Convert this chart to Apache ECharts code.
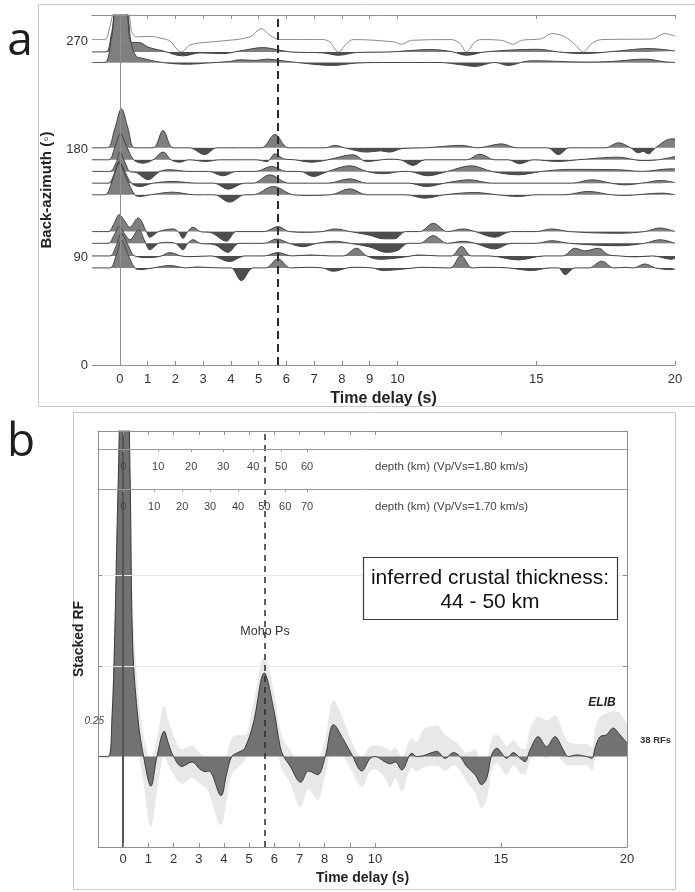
<!DOCTYPE html>
<html><head><meta charset="utf-8">
<script src="https://cdn.jsdelivr.net/npm/echarts@6/dist/echarts.min.js"></script>
<style>html,body{margin:0;padding:0;background:#fff}#c{width:695px;height:892px}</style>
</head><body><div id="c"></div>
<script>
// ---------- DATA ----------
const timeTicks = [0,1,2,3,4,5,6,7,8,9,10,15,20];
const bazTicks = [0,90,180,270];
const mohoTimeA = 5.7;
const mohoTimeB = 5.6;

// Panel a: receiver functions, [time (s), amplitude in back-azimuth units]
const traceBaz = { rf261line: 261.2, rf261: 261.2, rf252: 252.4, rf181: 181.2, rf171: 171.2, rf161: 161.5, rf152: 151.7, rf142: 142, rf111: 111.3, rf101: 101.5, rf91: 91, rf81: 81 };
const rf261line = [[-1,10.3],[-0.54,10.3],[-0.36,20.8],[-0.2,36],[0,45],[0.3,36],[0.42,18],[0.6,12.5],[1.08,13],[1.56,11],[1.8,9.2],[2.22,0],[2.52,5.6],[2.88,7.5],[3.72,9.2],[4.68,12.5],[5.1,19.4],[5.41,13.9],[5.77,10.3],[7.33,10.3],[7.57,8.3],[7.87,0],[8.17,6.9],[8.41,10.3],[9.91,8.3],[10.15,6.4],[10.51,9.7],[11.95,10.3],[12.25,7],[12.49,0],[12.79,8.3],[13.03,10.3],[13.75,9.7],[14.18,6.4],[14.47,9.7],[15.19,11],[15.56,15.3],[16.04,12.5],[16.4,6],[16.7,0],[17.0,7],[17.36,10.3],[19.16,10.8],[19.64,15.3],[20,13]];
const rf261 = [[-1,0],[-0.5,0],[-0.3,15],[-0.1,36],[0.2,36],[0.42,8],[0.72,7.8],[1.02,4],[1.56,0.8],[2.28,-3.3],[2.88,-0.8],[3.72,-1.4],[4.32,0.8],[5.17,3.6],[5.65,2],[6.13,0],[7.33,-0.8],[7.87,-2.8],[8.53,-0.5],[9.73,0],[11.23,2],[12.0,0],[12.49,-2.8],[13.15,0],[15.07,2.2],[15.8,0],[16.7,-1.4],[17.96,0.8],[19.04,2.8],[20,0.8]];
const rf252 = [[-1,0],[-0.54,0],[-0.3,20],[-0.1,45],[0.2,45],[0.42,15],[0.6,5],[0.8,3.6],[1.32,0.8],[1.92,-1],[2.52,-1.4],[3.12,-0.5],[3.96,0.8],[4.32,2.2],[4.92,1.7],[5.29,2.8],[5.77,1.7],[6.37,0],[7.69,-2.5],[8.53,-0.5],[9.73,0],[11.5,0],[12.31,-2],[12.79,-3.3],[13.51,0],[13.99,-2.5],[14.59,0.8],[14.95,1.4],[16.76,0.3],[17.72,0.8],[18.92,2.8],[19.64,0.5],[20,0]];
const rf181 = [[-1,0],[-0.45,0],[-0.18,16],[0.06,32.5],[0.3,16],[0.54,0],[1.2,0],[1.56,14.4],[1.92,0],[2.5,0],[3.06,-5.6],[3.5,0],[5.1,0],[5.59,11.1],[6.07,0],[7.4,0],[7.75,2],[8.1,0],[8.9,-3.6],[9.4,-2.5],[9.7,-3.6],[10.2,-0.5],[11.0,0],[12.31,2],[12.9,0],[13.75,3.3],[14.3,0],[15.4,0],[15.8,-5.6],[16.2,0],[17.5,0],[17.96,4.2],[18.4,0],[18.68,-4.2],[18.85,-3.0],[19.04,-5],[19.3,0],[19.76,7],[20,7.5]];
const rf171 = [[-1,0],[-0.4,0],[-0.17,11],[0.02,21.7],[0.25,11],[0.5,0],[0.84,-2.8],[1.2,0],[1.56,6.4],[1.85,0],[2.15,-2],[2.5,0],[3.1,-1.4],[3.6,0],[4.9,0],[5.3,-1.4],[5.6,5],[5.9,0.8],[6.3,0],[6.9,-2],[7.5,0],[8.4,4.2],[8.89,-1.4],[9.7,0.5],[10.1,0],[10.57,-4.7],[11.0,0],[12.5,0],[12.97,4.7],[13.5,0],[14.0,0],[14.4,-3.3],[14.9,0],[15.8,-1.4],[16.5,0],[17.96,2.2],[18.8,-0.6],[19.4,0],[20,2.8]];
const rf161 = [[-1,0],[-0.36,0],[-0.12,8],[0.0,16.1],[0.18,8],[0.36,0],[0.6,-1],[1.02,-6.9],[1.45,0],[1.8,1.4],[2.5,0],[3.2,0],[3.72,-3.6],[4.2,0],[4.9,0],[5.47,4.2],[6.0,0],[6.5,0],[6.97,-4.2],[7.5,0],[8.29,4.7],[8.9,0],[9.5,-1.9],[10.2,0],[10.4,0],[11.1,-3.6],[11.8,0],[12.67,4.7],[13.4,0],[14.35,-2.8],[15.2,0],[16.2,1.7],[17.96,1.4],[18.8,0],[19.88,2.2],[20,2]];
const rf152 = [[-1,0],[-0.42,0],[-0.18,9],[-0.02,18],[0.2,9],[0.42,0],[0.72,-2.8],[1.2,0],[1.92,1.4],[2.8,0],[3.4,0],[3.9,-5],[4.5,0],[4.8,0],[5.4,6.9],[6.1,0],[7.5,0],[8.29,3.6],[8.9,0],[10.4,0],[11.05,-2.8],[11.7,0],[12.6,2.8],[13.4,0],[16.3,0],[17.0,2.8],[17.7,0],[18.2,-1.4],[18.8,0],[19.5,2.2],[20,0.5]];
const rf142 = [[-1,0],[-0.54,0],[-0.25,13],[-0.02,26.4],[0.25,13],[0.54,0],[0.72,-1.4],[1.1,0],[1.92,2.2],[2.7,0],[3.4,0],[3.96,-6.1],[4.5,0],[4.8,0],[5.53,6.9],[6.25,0],[6.73,-0.5],[7.6,0],[8.29,5],[8.89,0],[10.3,0],[10.99,-2.8],[11.7,0],[12.79,1.9],[13.6,0],[14.35,-1.4],[15.0,0],[16.0,0],[16.88,2.8],[17.7,0],[18.2,-0.5],[19.52,1.4],[20,0]];
const rf111 = [[-1,0],[-0.42,0],[-0.2,7],[-0.02,14.2],[0.2,8],[0.36,3.6],[0.66,11.4],[0.96,0],[1.08,-4.7],[1.4,0],[1.92,2.2],[2.1,0],[2.28,-5.6],[2.45,0],[2.64,3.6],[2.9,0],[3.3,-1],[3.84,-8],[4.2,0],[5.2,0],[5.7,4.2],[6.1,0],[6.73,-0.6],[7.3,0],[7.75,2.2],[8.3,0],[9.0,-3],[9.5,-6],[9.9,-6],[10.3,0],[10.8,0],[11.29,6.9],[11.8,0],[12.37,2.2],[12.8,0],[13.51,-4.7],[14.1,0],[15.0,0],[15.56,2.2],[16.2,0],[17.96,-1.4],[18.9,0],[19.46,3],[20,0]];
const rf101 = [[-1,0],[-0.42,0],[-0.2,7],[-0.02,13.9],[0.2,7],[0.36,3],[0.68,11.4],[0.9,2],[1.08,-5.3],[1.4,0],[1.68,0.8],[2.0,0],[2.28,-5.3],[2.45,0],[2.64,3],[2.9,0],[3.4,-1],[3.9,-7.5],[4.3,0],[5.2,0],[5.65,3.6],[6.1,0],[6.6,-2.8],[7.1,0],[7.75,1.7],[8.3,0],[9.0,-3],[9.6,-7.5],[10.0,-6],[10.4,0],[10.8,0],[11.29,6.4],[11.8,0],[12.37,1.7],[12.8,0],[13.51,-4.7],[14.1,0],[15.0,0],[15.56,2.2],[16.2,0],[17.96,-2],[18.9,0],[19.46,3],[20,0]];
const rf91 = [[-1,0],[-0.36,0],[-0.12,9],[0.06,18.6],[0.3,9],[0.54,0],[1.08,-1.4],[1.5,0],[1.8,2.8],[2.2,0],[2.52,-0.6],[3.3,0],[3.96,-4.7],[4.3,-1.5],[4.5,0],[5.2,0],[5.7,2.8],[6.2,0],[6.85,0.8],[7.6,0],[8.05,0],[8.53,6.4],[8.9,0],[9.37,-2.8],[9.9,-2],[10.5,0],[10.75,0.8],[11.5,0],[11.95,0],[12.31,7.8],[12.67,0],[13.3,0],[14.35,-3.3],[15.3,0],[15.95,0],[16.4,6.4],[16.76,4.2],[17.24,6.4],[17.6,1],[18.0,0],[18.56,-0.8],[19.2,0],[19.88,-2.8],[20,-2]];
const rf81 = [[-1,0],[-0.36,0],[-0.12,11],[0.06,22.8],[0.3,11],[0.54,0],[0.72,-1.4],[1.2,0],[1.8,2],[2.4,0],[2.76,0.8],[3.6,0],[4.0,0],[4.38,-10.6],[4.8,0],[5.25,0],[5.7,7.5],[6.15,0],[6.73,0.5],[7.3,0],[7.69,-2.8],[8.2,0],[8.53,0.5],[9.1,0],[9.49,-2.2],[10.03,-1.4],[10.6,0],[10.87,0.5],[11.9,0],[12.29,10.3],[12.7,0],[13.15,0.5],[14.0,0],[14.83,-2.2],[15.5,0],[15.8,0],[16.04,-5.6],[16.4,0],[16.9,0],[17.36,5.6],[17.8,0],[18.2,0.5],[18.5,0],[18.92,3.3],[19.3,0],[19.88,-1.4],[20,-1]];

// Panel b: stacked receiver function (mean) with bootstrap band
const tB =     [-1,-0.6,-0.45,-0.34,-0.2,0,0.15,0.28,0.38,0.6,0.81,1.1,1.34,1.63,1.8,2.0,2.33,2.73,3.05,3.25,3.4,3.88,4.1,4.31,4.64,4.83,5.17,5.6,5.97,6.23,6.37,6.6,7.05,7.36,7.72,8.02,8.35,8.75,9.08,9.47,9.8,10.0,10.4,10.6,10.8,11.06,11.46,11.65,11.92,12.45,12.78,13.11,13.37,13.64,13.97,14.23,14.43,14.63,14.83,15.23,15.49,15.75,15.95,16.15,16.48,16.81,17.14,17.47,17.67,18.0,18.4,18.6,18.75,18.93,19.18,19.45,19.72,20];
const meanB =  [0,0,0.2,0.65,1.5,2.4,2.3,1.5,0.6,0.19,0,-0.164,0,0.14,0.07,0,-0.055,-0.03,-0.07,-0.083,-0.08,-0.216,-0.1,0,0.028,0.046,0.186,0.462,0.265,0.055,0,-0.046,-0.142,-0.08,-0.1,0,0.177,0.092,0.01,-0.08,-0.01,0,-0.03,-0.04,-0.03,-0.074,0.018,0,0.005,0.028,-0.01,0.022,0,-0.055,-0.1,-0.155,-0.12,0.01,0.046,-0.009,0.022,-0.009,-0.028,0.037,0.11,0.055,0.11,0.037,0,0.009,0,-0.01,0.055,0.11,0.12,0.157,0.12,0.074];
const upperB = [0,0.01,0.3,0.8,1.7,2.6,2.5,1.7,0.85,0.35,0.12,-0.02,0.1,0.28,0.2,0.12,0.04,0.06,0.02,0,0,-0.08,0,0.1,0.12,0.12,0.3,0.55,0.37,0.15,0.09,0.04,-0.04,0,-0.01,0.1,0.31,0.2,0.08,0,0.055,0.06,0.05,0.03,0.05,0,0.1,0.08,0.15,0.17,0.12,0.09,0.06,0.02,0.04,-0.05,-0.02,0.1,0.12,0.06,0.09,0.05,0.04,0.15,0.22,0.2,0.23,0.13,0.08,0.07,0.07,0.05,0.16,0.22,0.24,0.25,0.24,0.18];
const lowerB = [0,-0.01,0.1,0.5,1.3,2.2,2.1,1.3,0.4,0.05,-0.15,-0.39,-0.2,0,-0.05,-0.1,-0.15,-0.12,-0.15,-0.17,-0.2,-0.38,-0.25,-0.1,-0.05,-0.02,0.08,0.36,0.15,-0.04,-0.09,-0.14,-0.28,-0.18,-0.24,-0.1,0.06,0,-0.08,-0.17,-0.08,-0.07,-0.12,-0.17,-0.12,-0.19,-0.06,-0.08,-0.06,-0.05,-0.08,-0.05,-0.08,-0.14,-0.2,-0.285,-0.24,-0.08,-0.04,-0.1,-0.05,-0.09,-0.1,-0.02,0.02,-0.01,0.02,-0.03,-0.05,-0.05,-0.05,-0.08,0,0.02,0.02,0.04,0.02,0];

// Depth scales (label -> delay time in s)
const depthKm18 = [0,10,20,30,40,50,60];
const depthT18  = [0,1.39,2.70,3.97,5.16,6.27,7.30];
const depthKm17 = [0,10,20,30,40,50,60,70];
const depthT17  = [0,1.23,2.34,3.45,4.56,5.60,6.43,7.30];
const gridValsB = [0.5, 1.0];

// ---------- CHART ----------
const FONT = "'Liberation Sans', Arial, Helvetica, sans-serif";
const AX = '#8f8f8f';
const POS = '#7f7f7f', NEG = '#4d4d4d', LINE = '#444444';
const chart = echarts.init(document.getElementById('c'), null, {renderer: 'canvas'});

const aOrder = [
  ['rf261', rf261, true], ['rf252', rf252, true], ['rf261line', rf261line, false],
  ['rf181', rf181, true], ['rf171', rf171, true], ['rf161', rf161, true], ['rf152', rf152, true], ['rf142', rf142, true],
  ['rf111', rf111, true], ['rf101', rf101, true], ['rf91', rf91, true], ['rf81', rf81, true]
];
const series = [];
const visualMap = [];
aOrder.forEach(([name, arr, filled]) => {
  const base = traceBaz[name];
  const s = {
    name, type: 'line', xAxisIndex: 0, yAxisIndex: 0,
    data: arr.map(p => [p[0], base + p[1]]),
    smooth: 0.35, showSymbol: false, silent: true, animation: false,
    lineStyle: filled ? {color: LINE, width: 1} : {color: '#8a8a8a', width: 1}
  };
  if (filled) {
    s.areaStyle = {origin: base, opacity: 1};
    visualMap.push({type: 'piecewise', show: false, seriesIndex: series.length, dimension: 1,
      pieces: [{gte: base, lte: 2000, color: POS}, {gte: -2000, lt: base, color: NEG}]});
  }
  series.push(s);
});
// reference lines panel a
series[0].markLine = {silent: true, symbol: 'none', z: 1, label: {show: false},
  data: [{xAxis: 0, lineStyle: {color: '#dcdcdc', width: 1, type: 'solid'}}]};
series[series.length - 1].markLine = {silent: true, symbol: 'none', label: {show: false},
  data: [{xAxis: mohoTimeA, lineStyle: {color: '#2b2b2b', width: 2, type: [8, 5]}}]};

// Panel b
series.push({type: 'line', xAxisIndex: 2, yAxisIndex: 2, data: tB.map((t, i) => [t, upperB[i]]),
  smooth: 0.35, showSymbol: false, silent: true, animation: false,
  lineStyle: {width: 0, opacity: 0}, areaStyle: {origin: 'start', color: '#e8e8e8', opacity: 1},
  markLine: {silent: true, symbol: 'none', label: {show: false},
    data: gridValsB.map(v => ({yAxis: v, lineStyle: {color: '#e8e8e8', width: 1, type: 'solid'}}))}});
series.push({type: 'line', xAxisIndex: 2, yAxisIndex: 2, data: tB.map((t, i) => [t, lowerB[i]]),
  smooth: 0.35, showSymbol: false, silent: true, animation: false,
  lineStyle: {width: 0, opacity: 0}, areaStyle: {origin: 'start', color: '#ffffff', opacity: 1}});
series.push({type: 'line', xAxisIndex: 2, yAxisIndex: 2, data: tB.map((t, i) => [t, meanB[i]]),
  smooth: 0.35, showSymbol: false, silent: true, animation: false,
  lineStyle: {color: '#3a3a3a', width: 1}, areaStyle: {origin: 0, color: '#727272', opacity: 1},
  markLine: {silent: true, symbol: 'none', label: {show: false},
    data: [{xAxis: 0, lineStyle: {color: '#555', width: 2, type: 'solid'}},
           {xAxis: mohoTimeB, lineStyle: {color: '#2b2b2b', width: 1.5, type: [6, 5]}}]}});

const nearest = (v, ts, ks) => { let b = 0; ts.forEach((t, i) => { if (Math.abs(t - v) < Math.abs(ts[b] - v)) b = i; }); return String(ks[b]); };
const timeAxis = (grid, pos, labels, fs, margin, extra) => Object.assign({
  gridIndex: grid, type: 'value', min: -1, max: 20, position: pos, z: 10,
  axisLine: {show: true, onZero: false, lineStyle: {color: AX, width: 1}},
  axisTick: {show: true, inside: true, length: 4, customValues: timeTicks, lineStyle: {color: AX}},
  axisLabel: {show: labels, customValues: timeTicks, color: '#333', fontSize: fs, fontFamily: FONT, margin},
  splitLine: {show: false}
}, extra || {});
const depthAxis = (offset, ts, ks) => ({
  gridIndex: 1, type: 'value', min: -1, max: 20, position: 'top', offset: -offset, z: 10,
  axisLine: {show: true, onZero: false, lineStyle: {color: '#9a9a9a', width: 1}},
  axisTick: {show: true, inside: true, length: 3, customValues: ts, lineStyle: {color: '#9a9a9a'}},
  axisLabel: {show: true, inside: true, customValues: ts, margin: 12, color: '#444', fontSize: 11, fontFamily: FONT,
    formatter: v => nearest(v, ts, ks)},
  splitLine: {show: false}
});

const option = {
  animation: false,
  backgroundColor: '#fff',
  grid: [
    {left: 92, top: 15, width: 583, height: 350},
    {left: 98, top: 431, width: 529, height: 416}
  ],
  xAxis: [
    timeAxis(0, 'bottom', true, 13, 8, {name: 'Time delay (s)', nameLocation: 'middle', nameGap: 26,
      nameTextStyle: {fontWeight: 'bold', fontSize: 16, color: '#222', fontFamily: FONT}}),
    timeAxis(0, 'top', false, 13, 8),
    timeAxis(1, 'bottom', true, 13, 6, {name: 'Time delay (s)', nameLocation: 'middle', nameGap: 24,
      nameTextStyle: {fontWeight: 'bold', fontSize: 14, color: '#222', fontFamily: FONT}}),
    timeAxis(1, 'top', false, 13, 6),
    depthAxis(18, depthT18, depthKm18),
    depthAxis(58, depthT17, depthKm17)
  ],
  yAxis: [
    {gridIndex: 0, type: 'value', min: 0, max: 292, position: 'left', z: 10,
      axisLine: {show: true, lineStyle: {color: AX}},
      axisTick: {show: true, inside: true, length: 4, customValues: bazTicks, lineStyle: {color: AX}},
      axisLabel: {customValues: bazTicks, color: '#333', fontSize: 13, fontFamily: FONT, margin: 4},
      splitLine: {show: false},
      name: 'Back-azimuth (◦)', nameLocation: 'middle', nameGap: 38,
      nameTextStyle: {fontWeight: 'bold', fontSize: 15, color: '#222', fontFamily: FONT}},
    {gridIndex: 0, type: 'value', min: 0, max: 292, position: 'right', z: 10,
      axisLine: {show: true, lineStyle: {color: AX}}, axisTick: {show: false}, axisLabel: {show: false}, splitLine: {show: false}},
    {gridIndex: 1, type: 'value', min: -0.5, max: 1.8, position: 'left', z: 10,
      axisLine: {show: true, onZero: false, lineStyle: {color: AX}},
      axisTick: {show: true, inside: true, length: 4, customValues: gridValsB, lineStyle: {color: AX}},
      axisLabel: {show: false}, splitLine: {show: false},
      name: 'Stacked RF', nameLocation: 'middle', nameGap: 12,
      nameTextStyle: {fontWeight: 'bold', fontSize: 14, color: '#222', fontFamily: FONT}},
    {gridIndex: 1, type: 'value', min: -0.5, max: 1.8, position: 'right', z: 10,
      axisLine: {show: true, onZero: false, lineStyle: {color: AX}},
      axisTick: {show: true, inside: true, length: 4, customValues: gridValsB, lineStyle: {color: AX}},
      axisLabel: {show: false}, splitLine: {show: false}}
  ],
  visualMap,
  series,
  graphic: [
    {type: 'rect', silent: true, z: -10, shape: {x: 38.5, y: 4.5, width: 660, height: 402}, style: {fill: 'none', stroke: '#c9c9c9', lineWidth: 1}},
    {type: 'rect', silent: true, z: -10, shape: {x: 73.5, y: 412.5, width: 602, height: 477}, style: {fill: 'none', stroke: '#c9c9c9', lineWidth: 1}},
    {type: 'text', silent: true, x: 20, y: 42, style: {text: 'a', font: '400 46px "Open Sans", sans-serif', fill: '#1e1e1e', align: 'center', verticalAlign: 'middle'}},
    {type: 'text', silent: true, x: 21, y: 443, style: {text: 'b', font: '400 46px "Open Sans", sans-serif', fill: '#1e1e1e', align: 'center', verticalAlign: 'middle'}},
    {type: 'text', silent: true, x: 375, y: 467, style: {text: 'depth (km) (Vp/Vs=1.80 km/s)', font: '11.5px ' + FONT, fill: '#444', verticalAlign: 'middle'}},
    {type: 'text', silent: true, x: 375, y: 507, style: {text: 'depth (km) (Vp/Vs=1.70 km/s)', font: '11.5px ' + FONT, fill: '#444', verticalAlign: 'middle'}},
    {type: 'rect', silent: true, z: 20, shape: {x: 363.5, y: 557.5, width: 254, height: 62}, style: {fill: '#fff', stroke: '#3c3c3c', lineWidth: 1.2}},
    {type: 'text', silent: true, z: 21, x: 490, y: 578, style: {text: 'inferred crustal thickness:', font: '21px ' + FONT, fill: '#111', align: 'center', verticalAlign: 'middle'}},
    {type: 'text', silent: true, z: 21, x: 490, y: 602, style: {text: '44 - 50 km', font: '21px ' + FONT, fill: '#111', align: 'center', verticalAlign: 'middle'}},
    {type: 'text', silent: true, z: 21, x: 265, y: 632, style: {text: 'Moho Ps', font: '12.5px ' + FONT, fill: '#333', align: 'center', verticalAlign: 'middle'}},
    {type: 'text', silent: true, z: 21, x: 602, y: 703, style: {text: 'ELIB', font: 'italic bold 12px ' + FONT, fill: '#222', align: 'center', verticalAlign: 'middle'}},
    {type: 'text', silent: true, z: 21, x: 640, y: 740, style: {text: '38 RFs', font: 'bold 9.5px ' + FONT, fill: '#333', verticalAlign: 'middle'}},
    {type: 'text', silent: true, z: 21, x: 104, y: 721, style: {text: '0.25', font: 'italic 10px ' + FONT, fill: '#444', align: 'right', verticalAlign: 'middle'}}
  ]
};
chart.setOption(option);
</script></body></html>
